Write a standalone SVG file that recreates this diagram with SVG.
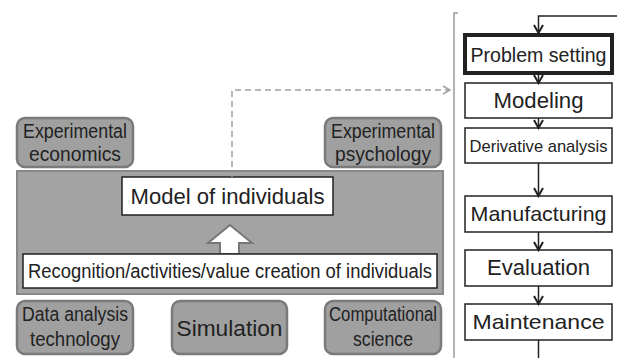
<svg xmlns="http://www.w3.org/2000/svg" width="617" height="358" viewBox="0 0 617 358">
<style>
.t{font-family:"Liberation Sans","DejaVu Sans",sans-serif;fill:#222;text-anchor:middle}
.g{fill:#a0a0a0;stroke:#7a7a7a;stroke-width:2.5}
.w{fill:#fff;stroke:#222;stroke-width:1.5}
.c{fill:none;stroke:#222;stroke-width:1.5}
</style>
<defs>
<marker id="v" viewBox="0 0 14 14" refX="12" refY="7" markerWidth="14" markerHeight="14" markerUnits="userSpaceOnUse" orient="auto">
<polyline points="4,2.5 12,7 4,11.5" fill="none" stroke="#222" stroke-width="2"/>
</marker>
<marker id="gv" viewBox="0 0 10 10" refX="9" refY="5" markerWidth="10" markerHeight="10" markerUnits="userSpaceOnUse" orient="auto">
<polyline points="2,1 9,5 2,9" fill="none" stroke="#a0a0a0" stroke-width="1.5"/>
</marker>
</defs>
<rect width="617" height="358" fill="#fff"/>
<g id="bracket"><polyline points="458,13 454,13 454,358" fill="none" stroke="#9a9a9a" stroke-width="1.5"/></g>
<g id="core">
<rect x="17" y="171" width="426" height="123" fill="#a3a3a3" stroke="#888" stroke-width="2"/>
</g>
<g id="exp-econ"><rect class="g" x="17" y="118" width="116" height="49" rx="8"/>
<text class="t" font-size="19.5" x="75" y="138" textLength="104" lengthAdjust="spacingAndGlyphs">Experimental</text>
<text class="t" font-size="19.5" x="75" y="161" textLength="92" lengthAdjust="spacingAndGlyphs">economics</text></g>
<g id="exp-psy"><rect class="g" x="325" y="118" width="116" height="49" rx="8"/>
<text class="t" font-size="19.5" x="383" y="138" textLength="104" lengthAdjust="spacingAndGlyphs">Experimental</text>
<text class="t" font-size="19.5" x="383" y="161" textLength="96" lengthAdjust="spacingAndGlyphs">psychology</text></g>
<g id="model"><rect class="w" x="122" y="177" width="211" height="38"/>
<text class="t" font-size="22" x="227.5" y="204" textLength="194" lengthAdjust="spacingAndGlyphs">Model of individuals</text></g>
<g id="up-arrow"><polygon points="230,225 252,243 239,243 239,254 220,254 220,243 208,243" fill="#fff" stroke="#777" stroke-width="2"/></g>
<g id="recognition"><rect class="w" x="23" y="254" width="414" height="34"/>
<text class="t" font-size="19.5" x="230" y="278" textLength="404" lengthAdjust="spacingAndGlyphs">Recognition/activities/value creation of individuals</text></g>
<g id="data-analysis"><rect class="g" x="17" y="301" width="116" height="53" rx="8"/>
<text class="t" font-size="19.5" x="75" y="321" textLength="106" lengthAdjust="spacingAndGlyphs">Data analysis</text>
<text class="t" font-size="19.5" x="75" y="346" textLength="90" lengthAdjust="spacingAndGlyphs">technology</text></g>
<g id="simulation"><rect class="g" x="172" y="301" width="115" height="53" rx="8"/>
<text class="t" font-size="22" x="229.5" y="336" textLength="106" lengthAdjust="spacingAndGlyphs">Simulation</text></g>
<g id="comp-sci"><rect class="g" x="325" y="301" width="116" height="53" rx="8"/>
<text class="t" font-size="19.5" x="383" y="321" textLength="108" lengthAdjust="spacingAndGlyphs">Computational</text>
<text class="t" font-size="19.5" x="383" y="346" textLength="60" lengthAdjust="spacingAndGlyphs">science</text></g>
<g id="problem"><rect x="465" y="35" width="147" height="38" fill="#fff" stroke="#222" stroke-width="4"/>
<text class="t" font-size="21" x="538.5" y="62" textLength="136" lengthAdjust="spacingAndGlyphs">Problem setting</text></g>
<g id="modeling"><rect class="w" x="465" y="83" width="147" height="35"/>
<text class="t" font-size="22" x="538.5" y="108" textLength="90" lengthAdjust="spacingAndGlyphs">Modeling</text></g>
<g id="derivative"><rect class="w" x="465" y="128" width="147" height="35"/>
<text class="t" font-size="17" x="538.5" y="151.5" textLength="138" lengthAdjust="spacingAndGlyphs">Derivative analysis</text></g>
<g id="manufacturing"><rect class="w" x="465" y="196" width="147" height="36"/>
<text class="t" font-size="21" x="538.5" y="221" textLength="136" lengthAdjust="spacingAndGlyphs">Manufacturing</text></g>
<g id="evaluation"><rect class="w" x="465" y="250" width="147" height="36"/>
<text class="t" font-size="22" x="538.5" y="275" textLength="103" lengthAdjust="spacingAndGlyphs">Evaluation</text></g>
<g id="maintenance"><rect class="w" x="465" y="304" width="147" height="36"/>
<text class="t" font-size="21" x="538.5" y="329" textLength="132" lengthAdjust="spacingAndGlyphs">Maintenance</text></g>
<g id="connectors">
<polyline points="232,177 232,90 450,90" fill="none" stroke="#a0a0a0" stroke-width="1.5" stroke-dasharray="6,4" marker-end="url(#gv)"/>
<polyline class="c" points="617,16 538.5,16 538.5,33" marker-end="url(#v)"/>
<line class="c" x1="538.5" y1="75" x2="538.5" y2="83" marker-end="url(#v)"/>
<line class="c" x1="538.5" y1="118" x2="538.5" y2="128" marker-end="url(#v)"/>
<line class="c" x1="538.5" y1="163" x2="538.5" y2="196" marker-end="url(#v)"/>
<line class="c" x1="538.5" y1="232" x2="538.5" y2="250" marker-end="url(#v)"/>
<line class="c" x1="538.5" y1="286" x2="538.5" y2="304" marker-end="url(#v)"/>
<line class="c" x1="538.5" y1="340" x2="538.5" y2="358"/>
</g>
</svg>
